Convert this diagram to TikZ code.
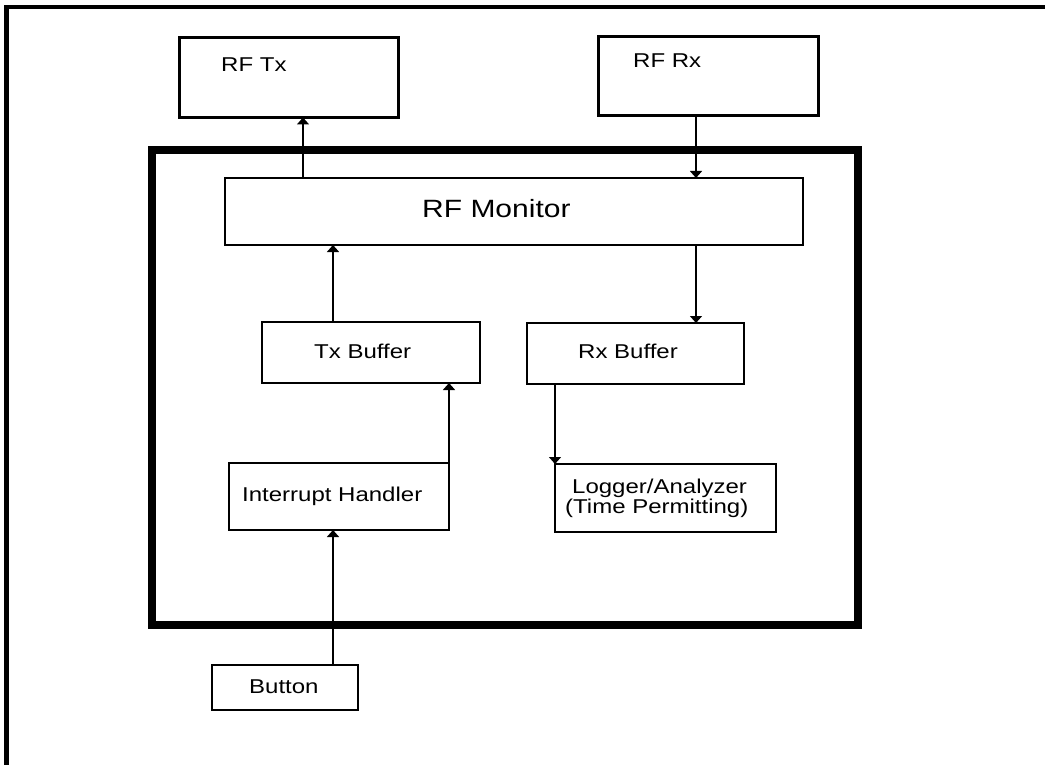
\documentclass[tikz,border=0pt]{standalone}
\usepackage{fontspec}
\setmainfont{Liberation Sans}[FakeStretch=1.2]
\usetikzlibrary{arrows.meta}
\begin{document}
\begin{tikzpicture}[x=1pt,y=-1pt,
  box/.style={draw, line width=1.5pt, rectangle, inner sep=0pt, outer sep=0pt},
  heavybox/.style={draw, line width=3pt, rectangle, inner sep=0pt, outer sep=0pt},
  txt/.style={anchor=base west, inner sep=0pt, font=\fontsize{20}{20}\selectfont},
  bigtxt/.style={anchor=base west, inner sep=0pt, font=\fontsize{25}{25}\selectfont},
  arr/.style={line width=1.5pt, -{Triangle[width=12pt,length=7pt]}}]
\useasboundingbox (0,0) rectangle (1045,765);
% outer frame (top and left edges only visible)
\draw[line width=4.5pt] (1045,7) -- (6.5,7) -- (6.5,765);
% inner thick frame
\draw[line width=8pt] (151.5,150.5) rectangle (858,624.5);
% boxes
\node[heavybox, minimum width=219pt, minimum height=80pt] (RFTx) at (289,77.5) {};
\node[heavybox, minimum width=220pt, minimum height=79pt] (RFRx) at (708.5,76) {};
\node[box, minimum width=578pt, minimum height=67pt] (RFMon) at (514,211.5) {};
\node[box, minimum width=218pt, minimum height=61pt] (TxB) at (371,352.5) {};
\node[box, minimum width=217pt, minimum height=61pt] (RxB) at (635.5,353.5) {};
\node[box, minimum width=220pt, minimum height=67pt] (IH) at (339,496.5) {};
\node[box, minimum width=221pt, minimum height=68pt] (Log) at (665.5,498) {};
\node[box, minimum width=146pt, minimum height=45pt] (Btn) at (285,687.5) {};
% texts
\node[txt] (tRFTx) at (221,72) {RF Tx};
\node[txt] (tRFRx) at (633,68) {RF Rx};
\node[bigtxt] (tRFMon) at (422,218) {RF Monitor};
\node[txt] (tTxB) at (314,358) {Tx Buffer};
\node[txt] (tRxB) at (578,358) {Rx Buffer};
\node[txt] (tIH) at (242,501) {Interrupt Handler};
\node[txt] (tLog1) at (572,493) {Logger/Analyzer};
\node[txt] (tLog2) at (565,513) {(Time Permitting)};
\node[txt] (tBtn) at (249,693) {Button};
% connector columns
\coordinate (c1) at (303,0);
\coordinate (c2) at (333,0);
\coordinate (c3) at (696,0);
% connectors
\draw[arr] (RFMon.north -| c1) -- (RFTx.south -| c1);
\draw[arr] (RFRx.south -| c3) -- (RFMon.north -| c3);
\draw[arr] (TxB.north -| c2) -- (RFMon.south -| c2);
\draw[arr] (RFMon.south -| c3) -- (RxB.north -| c3);
\draw[arr] (IH.north east) -- (TxB.south -| IH.north east);
\draw[arr] (RxB.south -| Log.north west) -- (Log.north west);
\draw[arr] (Btn.north -| c2) -- (IH.south -| c2);
\end{tikzpicture}
\end{document}
